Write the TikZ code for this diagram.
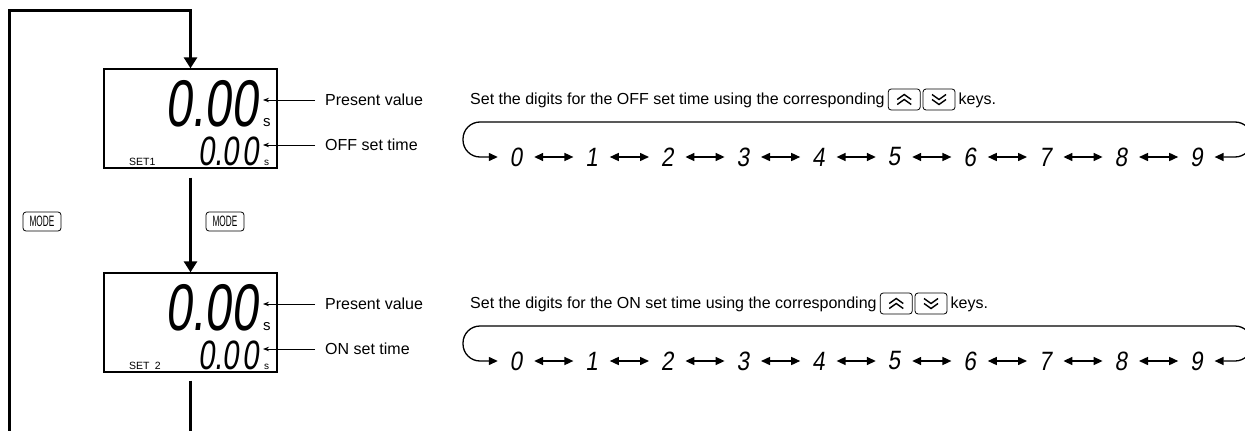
\documentclass[tikz,border=0pt]{standalone}
\usepackage{fontspec}
\setmainfont{Liberation Sans}
\newfontfamily\lcdfont[FakeSlant=0.12,FakeStretch=0.72]{Liberation Sans}
\newfontfamily\segfont[FakeSlant=0.15,FakeStretch=0.85]{Liberation Sans}
\newfontfamily\keyfont[FakeStretch=0.55]{Liberation Sans}
\usetikzlibrary{arrows.meta,calc}
\begin{document}
\begin{tikzpicture}[x=1pt,y=-1pt,
  flow/.style={line width=3pt,-{Triangle[length=11pt,width=13pt]}},
  flowline/.style={line width=3pt},
  lcdbox/.style={draw,line width=1.3pt,minimum width=173pt,minimum height=99pt,inner sep=0pt},
  lbl/.style={font=\fontsize{16}{18}\selectfont,inner sep=0pt},
  lblarr/.style={line width=0.8pt,-{Stealth[length=6pt,width=4.5pt]}},
  modekey/.style={draw,line width=0.8pt,rounded corners=3pt,minimum width=38pt,minimum height=19pt,inner sep=0pt,font=\keyfont\fontsize{15}{15}\selectfont},
  arrkey/.style={draw,line width=0.8pt,rounded corners=3pt,minimum width=32pt,minimum height=21pt,inner sep=0pt},
  chev/.style={line width=1.4pt},
  seg/.style={font=\segfont\fontsize{26.5}{27}\selectfont,minimum width=36pt,inner sep=0pt},
  dbl/.style={line width=1.5pt,{Triangle[length=9pt,width=8pt]}-{Triangle[length=9pt,width=8pt]}},
  loopline/.style={line width=1.3pt,rounded corners=17pt,{Triangle[length=9pt,width=8pt]}-{Triangle[length=9pt,width=8pt]}},
  lcdsmall/.style={inner sep=0pt,anchor=base west},
]
\clip (0,0) rectangle (1245,431);
\fill[white] (0,0) rectangle (1245,431);

% LCD boxes and flow
\node[lcdbox] (box1) at (190.5,118.5) {};
\node[lcdbox] (box2) at (190.5,322.5) {};
\coordinate (tl) at (9,10);
\coordinate (bl) at (9,445);
\draw[flow] (bl) -- (tl) -- (tl -| box1.north) -- (box1.north);
\draw[flow, shorten <=9pt] (box1.south) -- (box2.north);
\draw[flowline, shorten <=8pt] (box2.south) -- (box2.south |- bl);

\node[modekey] (mk1) at (42,221.5) {MODE};
\node[modekey] (mk2) at (225,221.5) {MODE};

\foreach \i/\off/\setlab/\lab/\sent in {1/0/SET1/OFF set time/OFF, 2/204/SET\enspace2/ON set time/ON} {
  % display contents
  \node[inner sep=0pt,anchor=base east,font=\lcdfont\fontsize{66}{66}\selectfont] (big\i) at (258,126+\off) {0.00};
  \node[lcdsmall,font=\fontsize{15}{15}\selectfont] (bs\i) at (263,126+\off) {s};
  \node[inner sep=0pt,anchor=base east,font=\lcdfont\fontsize{41}{41}\selectfont] (sm\i) at (259,165+\off) {0.0\kern3pt0};
  \node[lcdsmall,font=\fontsize{10}{10}\selectfont] (ss\i) at (264,165+\off) {s};
  \node[lcdsmall,font=\fontsize{10.5}{11}\selectfont] (set\i) at (129,165+\off) {\setlab};
  % labels
  \node[lbl,anchor=west] (pv\i) at (325,100+\off) {Present value};
  \coordinate (pvt\i) at (263,100+\off);
  \draw[lblarr, shorten <=10pt] (pv\i.west) -- (pvt\i);
  \node[lbl,anchor=west] (st\i) at (325,145+\off) {\lab};
  \coordinate (stt\i) at (263,145+\off);
  \draw[lblarr, shorten <=10pt] (st\i.west) -- (stt\i);
  % sentence
  \node[lbl,anchor=base west] (sen\i) at (470,104+\off) {Set the digits for the \sent\ set time using the corresponding};
  \coordinate (ky\i) at (0,99.5+\off);
  \node[arrkey,anchor=west] (ku\i) at ([xshift=3pt]sen\i.east |- ky\i) {};
  \node[arrkey,anchor=west] (kd\i) at ([xshift=2pt]ku\i.east) {};
  \node[lbl,anchor=base west] (keys\i) at ([xshift=3pt]kd\i.east |- sen\i.base) {keys.};
  \draw[chev] ($(ku\i.center)+(-7,0)$) -- ++(7,-5) -- ++(7,5);
  \draw[chev] ($(ku\i.center)+(-7,5)$) -- ++(7,-5) -- ++(7,5);
  \draw[chev] ($(kd\i.center)+(-7,-5)$) -- ++(7,5) -- ++(7,-5);
  \draw[chev] ($(kd\i.center)+(-7,0)$) -- ++(7,5) -- ++(7,-5);
  % digit sequence
  \foreach \d in {0,...,9}
    \node[seg] (d\i\d) at ({516+75.6*\d},157+\off) {\d};
  \foreach \d [count=\n from 1] in {0,...,8}
    \draw[dbl] (d\i\d.east) -- (d\i\n.west);
  \draw[loopline] (d\i9.east) -- (1252,157+\off) -- (1252,122+\off) -- (463,122+\off) -- (463,157+\off) -- (d\i0.west);
}
\end{tikzpicture}
\end{document}
